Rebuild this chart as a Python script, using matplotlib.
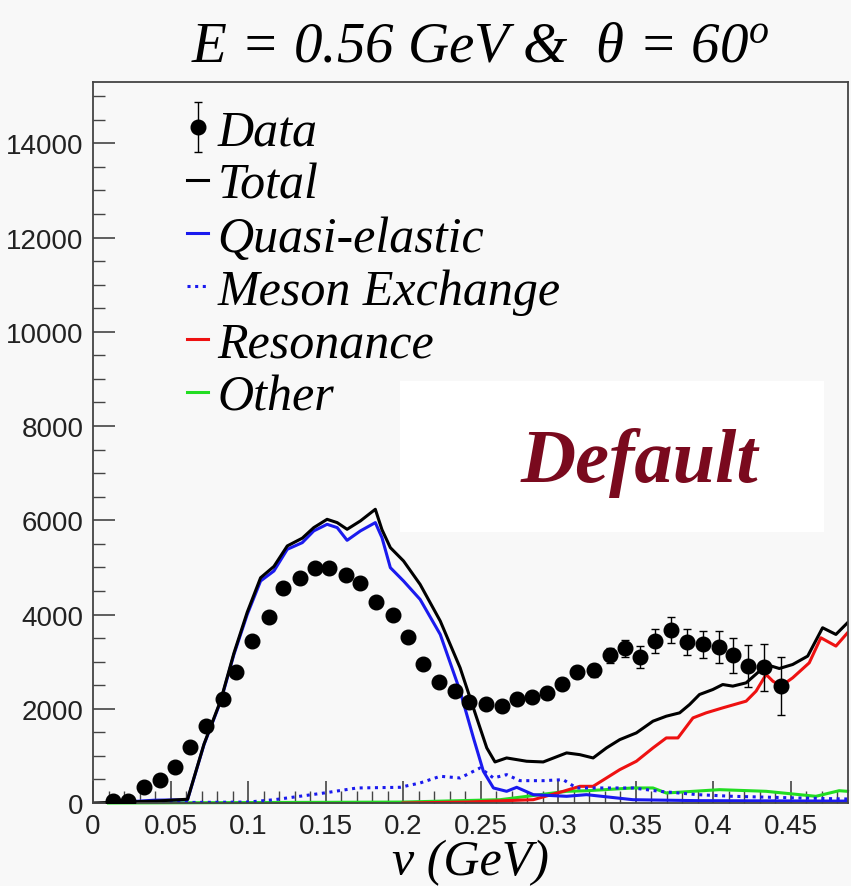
import matplotlib
matplotlib.use("Agg")
import matplotlib.pyplot as plt
from matplotlib.patches import Rectangle
from matplotlib.ticker import MultipleLocator, FuncFormatter

plt.rcParams['mathtext.fontset'] = 'custom'
plt.rcParams['mathtext.it'] = 'Liberation Serif:italic'
plt.rcParams['mathtext.rm'] = 'Liberation Serif:italic'

# measured data points
data_x = [0.0127, 0.0223, 0.033, 0.0433, 0.053, 0.0624, 0.0727, 0.0839, 0.0922, 0.1028,
          0.1135, 0.1223, 0.1332, 0.1429, 0.1523, 0.1634, 0.1725, 0.1823, 0.1935, 0.2035,
          0.2126, 0.2233, 0.2332, 0.2428, 0.2535, 0.264, 0.2733, 0.2829, 0.2926, 0.3026,
          0.3123, 0.323, 0.3333, 0.3434, 0.3526, 0.3623, 0.373, 0.3831, 0.3934, 0.4037,
          0.4127, 0.4228, 0.4331, 0.4438]
data_y = [50, 50, 333, 495, 758, 1184, 1643, 2216, 2790, 3436,
          3946, 4554, 4766, 4979, 4979, 4839, 4675, 4271, 3988, 3521,
          2954, 2571, 2387, 2146, 2110, 2054, 2216, 2252, 2337, 2529,
          2777, 2820, 3139, 3279, 3102, 3436, 3662, 3415, 3364, 3308,
          3139, 2905, 2884, 2480]
data_err = [30, 30, 40, 40, 50, 60, 70, 80, 90, 100,
            100, 110, 110, 110, 110, 110, 110, 110, 110, 110,
            100, 100, 100, 100, 100, 100, 110, 110, 120, 120,
            130, 140, 160, 190, 230, 250, 275, 275, 280, 345,
            370, 450, 500, 610]

# model curves
total_x = [0.0, 0.04, 0.061, 0.0716, 0.0824, 0.0909, 0.0995, 0.1081, 0.1167, 0.1253,
           0.135, 0.1424, 0.151, 0.1575, 0.1639, 0.1725, 0.1821, 0.1864, 0.1918, 0.2003,
           0.211, 0.224, 0.2368, 0.2475, 0.254, 0.2593, 0.2668, 0.2797, 0.2904, 0.3055,
           0.314, 0.3226, 0.3312, 0.3398, 0.3505, 0.3612, 0.3698, 0.3784, 0.3848, 0.3912,
           0.3998, 0.4062, 0.4127, 0.4213, 0.4299, 0.4342, 0.4427, 0.4513, 0.461, 0.4706,
           0.4792, 0.4867]
total_y = [0, 40, 80, 1250, 2180, 3180, 4050, 4780, 5020, 5455,
           5620, 5844, 6020, 5950, 5808, 5986, 6233, 5800, 5419, 5136,
           4639, 3861, 2869, 1806, 1169, 871, 956, 886, 871, 1063,
           1026, 956, 1169, 1345, 1488, 1736, 1842, 1913, 2089, 2302,
           2408, 2514, 2480, 2550, 2799, 2939, 2854, 2939, 3117, 3719,
           3577, 3825]

qe_x = [0.01, 0.04, 0.061, 0.0716, 0.0824, 0.0909, 0.0995, 0.1081, 0.1167, 0.1253,
        0.135, 0.1424, 0.151, 0.1575, 0.1639, 0.1725, 0.1821, 0.1864, 0.1918, 0.2003,
        0.211, 0.224, 0.2368, 0.2454, 0.2518, 0.2583, 0.2668, 0.2733, 0.284, 0.3055,
        0.3183, 0.3483, 0.39, 0.4867]
qe_y = [0, 60, 70, 1239, 2161, 3152, 4002, 4711, 4924, 5383,
        5525, 5774, 5914, 5844, 5574, 5774, 5950, 5631, 4994, 4711,
        4320, 3576, 2373, 1381, 673, 319, 248, 333, 177, 142,
        177, 70, 50, 40]

mec_x = [0.01, 0.1, 0.117, 0.149, 0.1703, 0.198, 0.211, 0.224, 0.2368, 0.2497,
         0.2583, 0.2668, 0.2754, 0.2904, 0.3033, 0.3119, 0.3269, 0.3483, 0.3655, 0.39,
         0.4127, 0.4556, 0.4867]
mec_y = [0, 20, 70, 212, 319, 333, 425, 567, 531, 744,
         531, 602, 474, 474, 495, 319, 319, 319, 248, 177,
         142, 106, 85]

res_x = [0.2, 0.241, 0.284, 0.3033, 0.314, 0.3226, 0.3312, 0.3398, 0.3505, 0.3612,
         0.3698, 0.3773, 0.387, 0.3955, 0.4062, 0.4213, 0.4277, 0.4342, 0.4385, 0.4438,
         0.4513, 0.462, 0.4695, 0.4792, 0.4867]
res_y = [0, 20, 70, 248, 354, 354, 531, 708, 886, 1169,
         1381, 1381, 1806, 1913, 2019, 2161, 2374, 2727, 2586, 2480,
         2656, 2975, 3506, 3330, 3612]

oth_x = [0.01, 0.2, 0.2626, 0.3055, 0.3183, 0.3483, 0.3612, 0.3698, 0.4041, 0.4342,
         0.4663, 0.4813, 0.4867]
oth_y = [0, 20, 70, 248, 260, 319, 319, 212, 283, 248,
         142, 261, 248]

serif = 'Liberation Serif'
bg = '#f8f8f8'

fig = plt.figure(figsize=(8.51, 8.87), dpi=100, facecolor=bg)
ax = fig.add_axes([93 / 851, 83 / 887, 755 / 851, 721 / 887])
ax.set_facecolor(bg)

lw = 2.2
ax.plot(oth_x, oth_y, color='#22dd22', lw=lw, label='Other', zorder=2, clip_on=False)
ax.plot(res_x, res_y, color='#ee1111', lw=lw, label='Resonance', zorder=2)
ax.plot(mec_x, mec_y, color='#1a1aee', lw=lw, ls=(0, (1, 1.5)), label='Meson Exchange', zorder=2)
ax.plot(qe_x, qe_y, color='#1a1aee', lw=lw, label='Quasi-elastic', zorder=2)
ax.plot(total_x, total_y, color='black', lw=lw, label='Total', zorder=2)
eb = ax.errorbar(data_x, data_y, yerr=data_err, fmt='o', color='black', ms=10.5,
                 elinewidth=1.0, capsize=3, capthick=1.0, label='Data', zorder=3)

ax.set_xlim(0, 0.487)
ax.set_ylim(0, 15300)

ax.xaxis.set_major_locator(MultipleLocator(0.05))
ax.xaxis.set_minor_locator(MultipleLocator(0.01))
ax.yaxis.set_major_locator(MultipleLocator(2000))
ax.yaxis.set_minor_locator(MultipleLocator(500))
ax.xaxis.set_major_formatter(FuncFormatter(lambda v, p: f"{v:g}"))
ax.yaxis.set_major_formatter(FuncFormatter(lambda v, p: f"{v:g}"))
ax.tick_params(which='both', direction='in', top=False, right=False, color='#444444')
ax.tick_params(which='major', length=16, width=1.2, labelsize=20, pad=7)
ax.tick_params(which='minor', length=8.5, width=1.0)
for lab in ax.get_xticklabels() + ax.get_yticklabels():
    lab.set_fontfamily('Liberation Sans')
    lab.set_color('#222222')
for s in ax.spines.values():
    s.set_color('#444444')
    s.set_linewidth(1.3)

h, l = ax.get_legend_handles_labels()
order = ['Data', 'Total', 'Quasi-elastic', 'Meson Exchange', 'Resonance', 'Other']
hd = dict(zip(l, h))
leg = ax.legend([hd[k] for k in order], order, loc='upper left',
                bbox_to_anchor=(0.125, 0.962), frameon=False, borderpad=0,
                borderaxespad=0, handlelength=0.42, handletextpad=0.18,
                labelspacing=0.13, prop={'family': serif, 'style': 'italic', 'size': 36})

ax.add_patch(Rectangle((0.406, 0.376), 0.562, 0.209, transform=ax.transAxes,
                       facecolor='white', edgecolor='none', zorder=5))
ax.text(0.7235, 0.473, 'Default', transform=ax.transAxes, ha='center', va='center',
        fontfamily=serif, fontstyle='italic', fontweight='bold', fontsize=55,
        color='#7a0a1e', zorder=6)

fig.text(0.564, 0.947, r'E = 0.56 GeV &  θ = 60$^{o}$', ha='center', va='center',
         fontfamily=serif, fontstyle='italic', fontsize=41)
fig.text(0.553, 0.027, 'ν (GeV)', ha='center', va='center',
         fontfamily=serif, fontstyle='italic', fontsize=36)

fig.savefig('out.png', dpi=100, facecolor=bg)
